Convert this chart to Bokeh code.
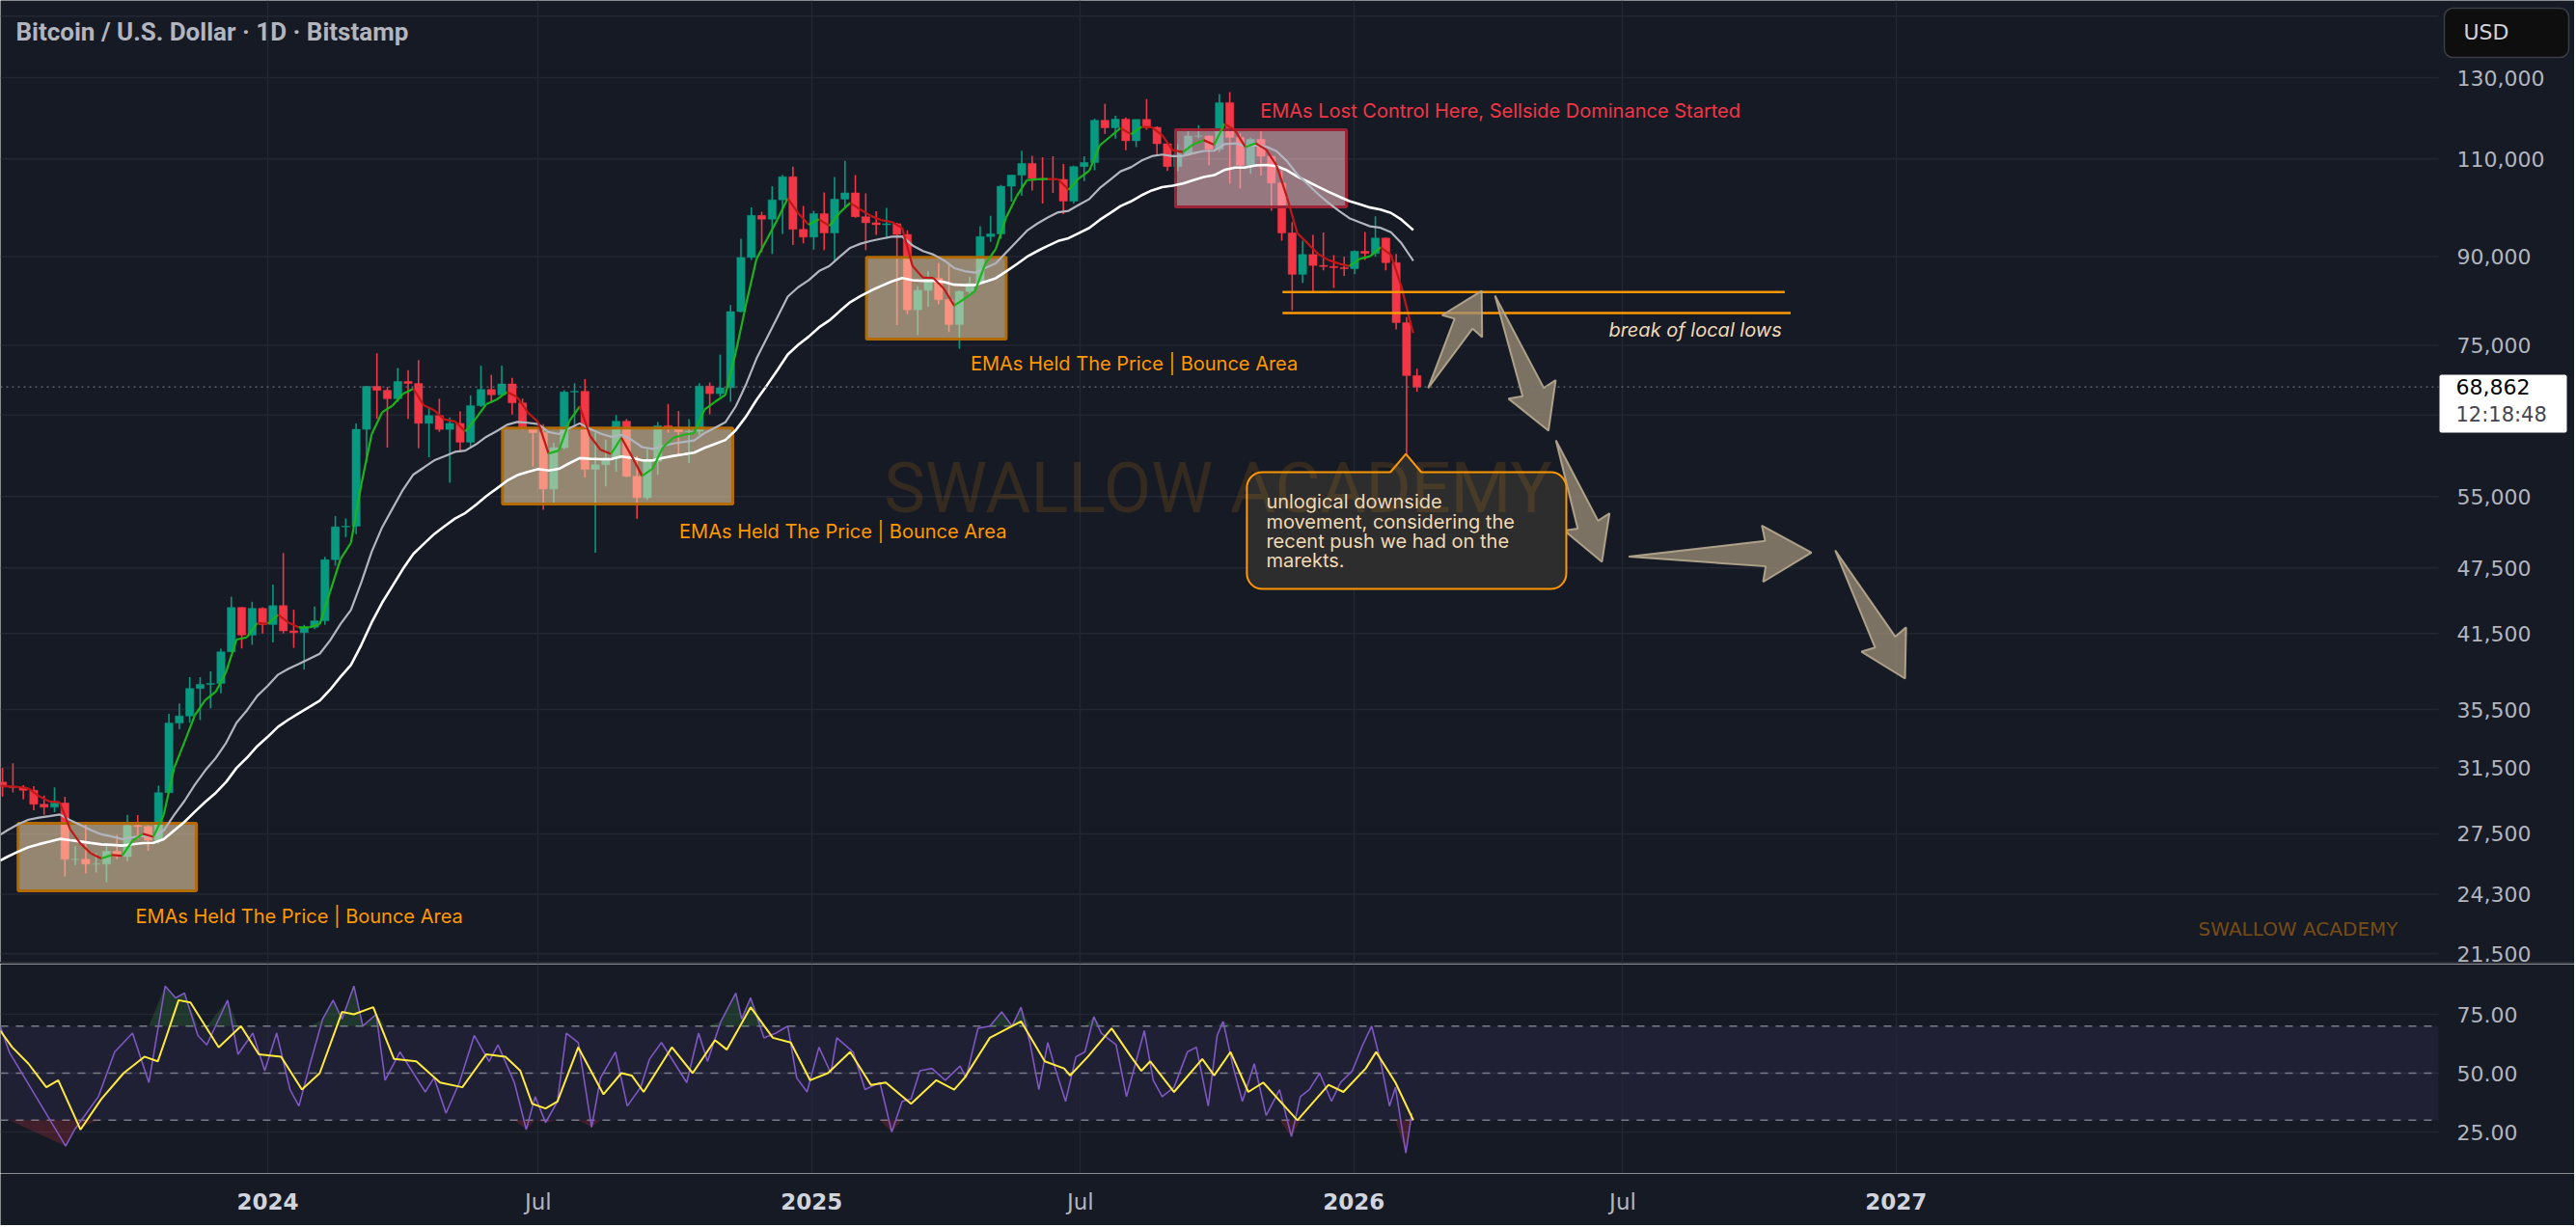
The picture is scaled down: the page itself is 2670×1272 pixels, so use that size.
import numpy as np
import pandas as pd
from bokeh.plotting import figure
from bokeh.models import Range1d, FixedTicker, LogScale, Div
from bokeh.layouts import column
from bokeh.core.properties import value
from bokeh.embed import file_html
from bokeh.resources import INLINE

# ---------------------------------------------------------------- data
# BTC/USD (Bitstamp), summarised as weekly candles
FIRST_WEEK = "2023-07-03"
OPEN = [30585, 30280, 30250, 30080, 29230, 29050, 29300, 26100, 26100, 25850,
        25850, 26530, 26250, 27980, 27920, 27150, 29930, 34530, 35040, 37070,
        37380, 37460, 39970, 43780, 41370, 43700,
        42280, 43950, 41730, 41580, 42040, 42600, 48300, 51670, 51730, 63130,
        68960, 68390, 67230, 69650, 69360, 63910, 64940, 63120, 63900, 61480,
        66270, 68510, 67770, 69300, 66650, 63200, 62700, 55850, 60800, 68160,
        68250, 58150, 58700, 59480, 64180, 57320, 54860, 59120, 63600, 63330,
        62820, 62870, 68990, 67930, 68750, 80400, 89850, 97950, 97200, 101150,
        106050, 95200, 93700,
        98300, 94500, 101300, 102600, 97700, 96500, 96100, 96300, 94200, 80700,
        84000, 86100, 82400, 78300, 83800, 85200, 93800, 94300, 104000, 106400,
        109000, 105700, 105600, 105500, 100900, 108300, 109200, 119100, 117300, 119400,
        114200, 119300, 117400, 113500, 108300, 111100, 115300, 115300, 112200, 123500,
        115000, 108600, 114500, 110600, 104700, 94500, 86800, 90400, 88400, 88200,
        88000, 87800, 91000, 90600, 93500, 88900, 78600, 70500]
HIGH = [31500, 31800, 30400, 30330, 29750, 30250, 29680, 26830, 28150, 26430,
        27000, 27450, 28600, 28580, 28000, 30360, 35200, 35950, 37950, 37950,
        38400, 40220, 44750, 43830, 44300, 43800,
        45900, 48970, 43580, 42250, 43870, 48580, 52820, 52570, 63900, 69000,
        73800, 68900, 71600, 71300, 72800, 66000, 67230, 64700, 65500, 67700,
        71950, 70600, 71950, 70150, 67250, 63300, 63800, 61400, 68400, 69400,
        70000, 62700, 61800, 65000, 64480, 59800, 60600, 64100, 66500, 65550,
        64480, 69400, 69500, 73600, 81500, 93400, 99600, 98700, 104000, 106500,
        108300, 99900, 98900,
        102700, 106000, 109600, 106400, 102500, 98800, 99500, 96500, 95000, 84700,
        87400, 88800, 88500, 84000, 86400, 95800, 97900, 104300, 106500, 111900,
        110700, 110400, 110600, 108900, 108500, 110600, 119500, 123200, 120200, 119800,
        119300, 124400, 117600, 113600, 113400, 116800, 117900, 115400, 125700, 126200,
        116000, 114900, 116400, 110800, 107500, 96600, 93000, 94100, 94600, 90300,
        90000, 91200, 94700, 97800, 93600, 90500, 79500, 71500]
LOW = [29700, 29950, 29520, 28870, 28600, 28750, 25200, 25800, 25350, 25400,
       24900, 26100, 26000, 27200, 26560, 26960, 29900, 34100, 34550, 34750,
       35600, 36700, 39970, 40250, 40550, 41500,
       40750, 41500, 40300, 38540, 41880, 42260, 47700, 50600, 50900, 59000,
       64500, 60800, 66800, 64500, 60700, 59600, 62800, 56550, 60200, 60750,
       66100, 66650, 67600, 65070, 63000, 58500, 53500, 54250, 60600, 63500,
       57200, 49000, 56150, 57850, 57200, 52550, 54600, 57500, 62700, 59830,
       58900, 62400, 65100, 67500, 66800, 80300, 89400, 90800, 90500, 94300,
       92200, 92500, 91300,
       91200, 89200, 99500, 97500, 91200, 94100, 93400, 78200, 80000, 76600,
       81200, 81600, 77100, 74500, 83100, 85100, 92800, 93400, 100800, 102000,
       103100, 100400, 102600, 98200, 100400, 105100, 107500, 115800, 114700, 112000,
       112700, 116800, 110600, 107300, 107300, 110700, 114800, 108600, 111600, 104600,
       103500, 106700, 106300, 98900, 93000, 80600, 85300, 83800, 87500, 84400,
       86500, 86800, 89400, 90000, 87500, 77500, 60000, 68200]
CLOSE = [30280, 30250, 30080, 29230, 29050, 29300, 26100, 26100, 25850, 25850,
         26530, 26250, 27980, 27920, 27150, 29930, 34530, 35040, 37070, 37380,
         37460, 39970, 43780, 41370, 43700, 42280,
         43950, 41730, 41580, 42040, 42600, 48300, 51670, 51730, 63130, 68960,
         68390, 67230, 69650, 69360, 63910, 64940, 63120, 63900, 61480, 66270,
         68510, 67770, 69300, 66650, 63200, 62700, 55850, 60800, 68160, 68250,
         58150, 58700, 59480, 64180, 57320, 54860, 59120, 63600, 63330, 62820,
         62870, 68990, 67930, 68750, 80400, 89850, 97950, 97200, 101150, 106050,
         95200, 93700, 98300,
         94500, 101300, 102600, 97700, 96500, 96100, 96300, 94200, 80700, 84000,
         86100, 82400, 78300, 83800, 85200, 93800, 94300, 104000, 106400, 109000,
         105700, 105600, 105500, 100900, 108300, 109200, 119100, 117300, 119400, 114200,
         119300, 117400, 113500, 108300, 111100, 115300, 115300, 112200, 123500, 115000,
         108600, 114500, 110600, 104700, 94500, 86800, 90400, 88400, 88200, 88000,
         87800, 91000, 90600, 93500, 88900, 78600, 70500, 68862]
LAST_BAR = "2026-02-10"
LAST_PRICE = 68862
COUNTDOWN = "12:18:48"

# EMA indicator settings and their values at the left edge of the chart
EMA_START = "2023-07-05"
EMA_FAST_LEN, EMA_MID_LEN, EMA_SLOW_LEN = 21, 100, 200
EMA_FAST_SEED, EMA_MID_SEED, EMA_SLOW_SEED = 30350, 27450, 26040

RSI_DAY = [-180, -174, -136, -130, -114, -103, -91, -80, -69, -62,
           -56, -47, -41, -27, -20, -10, -2, 6, 15, 21,
           29, 37, 44, 50, 58, 64, 73, 79, 89, 106,
           112, 120, 129, 139, 149, 155, 166, 174, 180, 187,
           195, 201, 209, 218, 224, 234, 242, 251, 257, 265,
           273, 282, 290, 296, 305, 315, 319, 325, 334, 342,
           350, 356, 363, 371, 379, 383, 394, 402, 412, 420,
           427, 433, 439, 447, 456, 466, 470, 478, 486, 494,
           501, 507, 513, 519, 525, 530, 537, 544, 550, 556,
           561, 571, 578, 590, 596, 602, 610, 619, 625, 633,
           639, 643, 650, 656, 664, 672, 681, 689, 695, 701,
           708, 716, 722, 730, 737, 743, 749, 755, 759, 766, 770]
RSI_VAL = [70, 59, 19, 26, 40, 59, 67, 46, 87, 82,
           84, 66, 62, 81, 58, 67, 51, 67, 43, 36,
           55, 73, 81, 73, 87, 70, 75, 47, 59, 42,
           48, 33, 46, 66, 55, 62, 46, 26, 40, 29,
           38, 67, 63, 27, 48, 59, 36, 44, 56, 63,
           55, 46, 67, 55, 72, 84, 73, 82, 65, 67,
           70, 48, 42, 61, 50, 65, 59, 43, 46, 25,
           38, 39, 51, 52, 47, 53, 48, 69, 70, 76,
           70, 78, 63, 43, 63, 52, 38, 57, 59, 74,
           67, 62, 40, 68, 47, 40, 44, 59, 61, 36,
           66, 72, 52, 38, 54, 32, 43, 23, 40, 43,
           50, 38, 46, 51, 62, 70, 55, 36, 44, 16, 33]
RSI_MA_DAY = [-180, -172, -161, -149, -141, -126, -112, -97, -83, -74,
              -68, -60, -52, -33, -18, -6, 9, 23, 35, 50,
              58, 71, 85, 100, 116, 131, 147, 160, 170, 178,
              187, 195, 209, 226, 238, 245, 253, 272, 286, 301,
              309, 325, 340, 352, 365, 377, 392, 406, 416, 433,
              450, 462, 469, 486, 507, 523, 536, 540, 552, 568,
              581, 588, 594, 610, 629, 637, 648, 660, 670, 693,
              714, 724, 739, 746, 759, 771]
RSI_MA_VAL = [68, 61, 54, 44, 47, 26, 39, 50, 57, 55,
              66, 81, 80, 61, 70, 58, 57, 43, 50, 76,
              75, 78, 56, 55, 46, 44, 58, 57, 51, 37,
              35, 38, 61, 41, 50, 49, 42, 61, 50, 64,
              60, 78, 65, 63, 47, 50, 59, 45, 46, 37,
              47, 43, 48, 65, 72, 55, 52, 49, 57, 69,
              57, 51, 55, 42, 56, 49, 59, 42, 46, 30,
              45, 42, 52, 59, 46, 30]
RSI_LEVELS = [70, 50, 30]

# axes
PRICE_TICKS = [130000, 110000, 90000, 75000, 55000, 47500, 41500,
               35500, 31500, 27500, 24300, 21500]
PRICE_GRID = [147500, 130000, 110000, 90000, 75000, 65000, 55000, 47500, 41500,
              35500, 31500, 27500, 24300, 21500]
RSI_TICKS = [25, 50, 75]
TIME_TICKS = ["2024-01-01", "2024-07-01", "2025-01-01", "2025-07-01",
              "2026-01-01", "2026-07-01", "2027-01-01"]
TIME_LABELS = ["2024", "Jul", "2025", "Jul", "2026", "Jul", "2027"]
CURRENCY = "USD"

# drawings on the chart
BOX_START = ["2023-07-17", "2024-06-07", "2025-02-07", "2025-09-03"]
BOX_END = ["2023-11-14", "2024-11-09", "2025-05-12", "2025-12-27"]
BOX_TOP = [28100, 63300, 89900, 116800]
BOX_BOTTOM = [24470, 54150, 75990, 99700]
BOX_HELD = [True, True, True, False]

NOTE_TEXT = ["EMAs Held The Price | Bounce Area", "EMAs Held The Price | Bounce Area",
             "EMAs Held The Price | Bounce Area",
             "EMAs Lost Control Here, Sellside Dominance Started"]
NOTE_DATE = ["2023-10-04", "2024-10-04", "2025-04-18", "2025-10-30"]
NOTE_PRICE = [23200, 51130, 72300, 121500]

LEVEL_PRICE = [83700, 80160]
LEVEL_START = ["2025-11-14", "2025-11-14"]
LEVEL_END = ["2026-10-18", "2026-10-22"]
LEVEL_NOTE = "break of local lows"
LEVEL_NOTE_DATE = "2026-10-16"
LEVEL_NOTE_PRICE = 77400

ARROW_FROM_DATE = ["2026-02-20", "2026-04-06", "2026-05-17", "2026-07-05", "2026-11-21"]
ARROW_FROM_PRICE = [68700, 83080, 61720, 48600, 49230]
ARROW_TO_DATE = ["2026-03-28", "2026-05-12", "2026-06-17", "2026-11-05", "2027-01-07"]
ARROW_TO_PRICE = [83900, 62950, 48090, 49000, 37830]

CALLOUT_LEFT, CALLOUT_RIGHT = "2025-10-21", "2026-05-24"
CALLOUT_TOP, CALLOUT_BOTTOM = 57810, 45480
CALLOUT_TIP_DATE, CALLOUT_TIP_PRICE = "2026-02-05", 60020
CALLOUT_TEXT_DATE = "2025-11-03"
CALLOUT_LINES = ["unlogical downside", "movement, considering the",
                 "recent push we had on the", "marekts."]
CALLOUT_LINE_PRICE = [54370, 52210, 50140, 48180]

TITLE = "Bitcoin / U.S. Dollar \u00b7 1D \u00b7 Bitstamp"
WATERMARK = "SWALLOW ACADEMY"

# ---------------------------------------------------------------- layout / scale calibration
W, H_MAIN, SEP, H_RSI, H_AXIS = 2668, 997, 2, 217, 54
SCALE_X = 2527          # page x where the price scale begins
BG = "#161a25"
GRID = "#232733"
TXT = "#b2b5be"
UP, DOWN = "#089981", "#f23645"
AX_FONT = "DejaVu Sans"

REF_EPOCH = pd.Timestamp("2024-01-01")
EPOCH_PX = 277.0
PX_PER_DAY = 1.54
REF_PRICE, REF_PRICE_PX, PX_PER_LN = 130000.0, 80.0, 504.7
RSI_REF_PX, RSI_PX_PER_UNIT = 1112.0, 2.44  # RSI 50 line


def to_ms(t):
    return pd.Timestamp(t).value / 1e6


def day_of(t):
    return (pd.Timestamp(t) - REF_EPOCH) / pd.Timedelta(days=1)


def x_px(t):
    return EPOCH_PX + day_of(t) * PX_PER_DAY


def px_to_ms(px):
    return to_ms(REF_EPOCH + pd.Timedelta(days=(px - EPOCH_PX) / PX_PER_DAY))


def price_to_py(p):
    return REF_PRICE_PX + PX_PER_LN * np.log(REF_PRICE / p)


def py_to_price(py):
    return REF_PRICE * np.exp(-(py - REF_PRICE_PX) / PX_PER_LN)


def py_to_rsi(py):
    return 50 + (RSI_REF_PX - py) / RSI_PX_PER_UNIT


def days_ms(days):
    return [to_ms(REF_EPOCH + pd.Timedelta(days=d)) for d in days]


xr = Range1d(px_to_ms(0), px_to_ms(W))
X_LEFT, X_SCALE = px_to_ms(0), px_to_ms(SCALE_X)
tick_ms = [to_ms(t) for t in TIME_TICKS]


def base_fig(height, y_range, y_type="linear"):
    f = figure(width=W, height=height, x_range=xr, y_range=y_range,
               y_axis_type=y_type,
               x_axis_location=None, y_axis_location=None,
               toolbar_location=None, output_backend="svg",
               background_fill_color=BG, border_fill_color=BG, outline_line_color=None,
               min_border_left=0, min_border_right=0, min_border_top=0, min_border_bottom=0)
    if y_type == "log":
        f.y_scale = LogScale()
    return f


# ---------------------------------------------------------------- main price pane
p = base_fig(H_MAIN, Range1d(py_to_price(H_MAIN), py_to_price(0)), "log")
p.xgrid.ticker = FixedTicker(ticks=tick_ms)
p.xgrid.grid_line_color = GRID
p.xgrid.grid_line_width = 1.5
p.ygrid.visible = False
p.segment(x0=X_LEFT, y0=PRICE_GRID, x1=X_SCALE, y1=PRICE_GRID,
          line_color=GRID, line_width=1.5, level="underlay")

# price scale labels
p.text(x=px_to_ms(2546), y=PRICE_TICKS, text=[f"{v:,}" for v in PRICE_TICKS],
       text_font=value(AX_FONT), text_font_size="22px", text_color=TXT,
       text_align="left", text_baseline="middle")

# candles
weeks = pd.date_range(FIRST_WEEK, periods=len(CLOSE), freq="7D")
o, h, l, c = map(np.array, (OPEN, HIGH, LOW, CLOSE))
col = [UP if u else DOWN for u in (c >= o)]
left = [to_ms(w + pd.Timedelta(days=0.8)) for w in weeks]
right = [to_ms(w + pd.Timedelta(days=6.2)) for w in weeks]
mid = [to_ms(w + pd.Timedelta(days=3.5)) for w in weeks]
p.segment(x0=mid, y0=l, x1=mid, y1=h, line_color=col, line_width=1.6)
p.quad(left=left, right=right, top=np.maximum(o, c), bottom=np.minimum(o, c),
       fill_color=col, line_color=col, line_width=0.5)

# drawing boxes (above candles)
for s, e, t, b, held in zip(BOX_START, BOX_END, BOX_TOP, BOX_BOTTOM, BOX_HELD):
    p.quad(left=[to_ms(s)], right=[to_ms(e)], top=[t], bottom=[b],
           fill_color="#ffe0b3" if held else "#ffc5ca", fill_alpha=0.55,
           line_color="#b36b00" if held else "#9b2335", line_width=3)

# EMAs computed from the closes (daily smoothing factor applied per elapsed day)
last_ts = pd.Timestamp(LAST_BAR)
close_ts = [min(w + pd.Timedelta(days=7), last_ts) for w in weeks]


def ema(seed, length):
    a_d = 2.0 / (length + 1)
    xs, vs = [pd.Timestamp(EMA_START)], [seed]
    v = seed
    for t, cl in zip(close_ts, CLOSE):
        dd = (t - xs[-1]) / pd.Timedelta(days=1)
        a = 1 - (1 - a_d) ** dd
        v = v + a * (cl - v)
        xs.append(t)
        vs.append(v)
    return [to_ms(x) for x in xs], np.array(vs)


sx, sv = ema(EMA_SLOW_SEED, EMA_SLOW_LEN)
mx, mv = ema(EMA_MID_SEED, EMA_MID_LEN)
fx, fv = ema(EMA_FAST_SEED, EMA_FAST_LEN)
p.line(sx, sv, line_color="#ffffff", line_width=2.6)
p.line(mx, mv, line_color="#b2b5be", line_width=2.2)
fcol = ["#1db31d" if b >= a else "#c01818" for a, b in zip(fv[:-1], fv[1:])]
p.segment(x0=fx[:-1], y0=fv[:-1], x1=fx[1:], y1=fv[1:], line_color=fcol, line_width=2.2)

# notes
for txt, d, pr in zip(NOTE_TEXT, NOTE_DATE, NOTE_PRICE):
    p.text(x=[to_ms(d)], y=[pr], text=[txt], text_font=value("Inter"),
           text_font_size="20px", text_align="left", text_baseline="middle",
           text_color="#ff9800" if "Held" in txt else "#f23645")

# local-low levels
for lv, s, e in zip(LEVEL_PRICE, LEVEL_START, LEVEL_END):
    p.segment(x0=[to_ms(s)], y0=[lv], x1=[to_ms(e)], y1=[lv], line_color="#ff9800", line_width=2.5)
p.text(x=[to_ms(LEVEL_NOTE_DATE)], y=[LEVEL_NOTE_PRICE], text=[LEVEL_NOTE],
       text_font=value("Inter"), text_font_size="20px", text_font_style="italic",
       text_color="#f0d9b5", text_align="right", text_baseline="middle")


# projection arrows
def arrow_polygon(d0, p0, d1, p1):
    x0, y0 = x_px(d0), price_to_py(p0)
    x1, y1 = x_px(d1), price_to_py(p1)
    dx, dy = x1 - x0, y1 - y0
    L = float(np.hypot(dx, dy))
    ux, uy = dx / L, dy / L
    nx, ny = -uy, ux
    wing = 30 + 0.15 * L
    head = 25 + 0.12 * L
    shaft = 0.45 * wing
    bx, by = x1 - ux * head, y1 - uy * head
    pts = [(x0, y0),
           (bx + nx * shaft / 2, by + ny * shaft / 2),
           (bx - ux * 3 + nx * wing / 2, by - uy * 3 + ny * wing / 2),
           (x1, y1),
           (bx - ux * 3 - nx * wing / 2, by - uy * 3 - ny * wing / 2),
           (bx - nx * shaft / 2, by - ny * shaft / 2)]
    return [px_to_ms(x) for x, _ in pts], [py_to_price(y) for _, y in pts]


axs, ays = [], []
for d0, p0, d1, p1 in zip(ARROW_FROM_DATE, ARROW_FROM_PRICE, ARROW_TO_DATE, ARROW_TO_PRICE):
    a, b = arrow_polygon(d0, p0, d1, p1)
    axs.append(a)
    ays.append(b)
p.patches(axs, ays, fill_color="#9f9079", fill_alpha=0.75, line_color="#b8aa90",
          line_width=2, line_alpha=0.9)

# callout bubble
p.quad(left=[to_ms(CALLOUT_LEFT)], right=[to_ms(CALLOUT_RIGHT)], top=[CALLOUT_TOP],
       bottom=[CALLOUT_BOTTOM], fill_color="#2d2d2d", line_color="#ff9800",
       line_width=2, border_radius=16)
tx, ty = x_px(CALLOUT_TIP_DATE), price_to_py(CALLOUT_TIP_PRICE)
by = price_to_py(CALLOUT_TOP)
p.patch([px_to_ms(tx - 16), px_to_ms(tx), px_to_ms(tx + 16)],
        [py_to_price(by + 1.5), py_to_price(ty), py_to_price(by + 1.5)],
        fill_color="#2d2d2d", line_color=None)
p.line([px_to_ms(tx - 16), px_to_ms(tx), px_to_ms(tx + 16)],
       [py_to_price(by), py_to_price(ty), py_to_price(by)], line_color="#ff9800", line_width=2)

# watermark (faint, drawn over the bubble as in the reference)
p.text(x=[px_to_ms(1262)], y=[py_to_price(506)], text=[WATERMARK],
       text_font=value("Roboto"), text_font_size="72px", text_color="#ff9800",
       text_alpha=0.13, text_align="center", text_baseline="middle")

for txt, pr in zip(CALLOUT_LINES, CALLOUT_LINE_PRICE):
    p.text(x=[to_ms(CALLOUT_TEXT_DATE)], y=[pr], text=[txt],
           text_font=value("Inter"), text_font_size="20px", text_color="#f0d9b5",
           text_align="left", text_baseline="middle")

# current price line and tag on the price scale
p.segment(x0=[X_LEFT], y0=[LAST_PRICE], x1=[X_SCALE], y1=[LAST_PRICE],
          line_color="#6a6d78", line_dash="2 4", line_width=1.2)
p.quad(left=[px_to_ms(2528)], right=[px_to_ms(2660)], top=[py_to_price(388)],
       bottom=[py_to_price(448)], fill_color="#ffffff", line_color=None, border_radius=2)
p.text(x=[px_to_ms(2545)], y=[LAST_PRICE], text=[f"{LAST_PRICE:,}"],
       text_font=value(AX_FONT), text_font_size="22px", text_color="#000000",
       text_align="left", text_baseline="middle")
p.text(x=[px_to_ms(2545)], y=[py_to_price(429)], text=[COUNTDOWN],
       text_font=value(AX_FONT), text_font_size="21px", text_color="#434651",
       text_align="left", text_baseline="middle")

# currency button
p.quad(left=[px_to_ms(2533)], right=[px_to_ms(2662)], top=[py_to_price(8)],
       bottom=[py_to_price(59)], fill_color="#0e0e0e", line_color="#3a3d45",
       line_width=1.5, border_radius=9)
p.text(x=[px_to_ms(2553)], y=[py_to_price(33)], text=[CURRENCY],
       text_font=value(AX_FONT), text_font_size="22px", text_color="#d1d4dc",
       text_align="left", text_baseline="middle")

# title and small watermark
p.text(x=[px_to_ms(16)], y=[py_to_price(32)], text=[TITLE],
       text_font=value("Roboto"), text_font_size="26px", text_font_style="bold",
       text_color=TXT, text_align="left", text_baseline="middle")
p.text(x=[px_to_ms(2278)], y=[py_to_price(962)], text=[WATERMARK],
       text_font=value(AX_FONT), text_font_size="20px", text_color="#ff9800",
       text_alpha=0.42, text_align="left", text_baseline="middle")

# ---------------------------------------------------------------- RSI pane
rtop = H_MAIN + SEP
rsi = base_fig(H_RSI, Range1d(py_to_rsi(rtop + H_RSI), py_to_rsi(rtop)))
rsi.xgrid.ticker = FixedTicker(ticks=tick_ms)
rsi.xgrid.grid_line_color = GRID
rsi.xgrid.grid_line_width = 1.5
rsi.ygrid.visible = False
rsi.segment(x0=X_LEFT, y0=RSI_TICKS, x1=X_SCALE, y1=RSI_TICKS,
            line_color=GRID, line_width=1.5, level="underlay")
rsi.quad(left=[X_LEFT], right=[X_SCALE], bottom=[min(RSI_LEVELS)], top=[max(RSI_LEVELS)],
         fill_color="#7e57c2", fill_alpha=0.1, line_color=None, level="underlay")
rsi.segment(x0=X_LEFT, y0=RSI_LEVELS, x1=X_SCALE, y1=RSI_LEVELS,
            line_color="#787b86", line_dash="8 8", line_width=1.5)
rx = days_ms(RSI_DAY)
rv = np.array(RSI_VAL, dtype=float)
rsi.varea(x=rx, y1=max(RSI_LEVELS), y2=np.maximum(rv, max(RSI_LEVELS)),
          fill_color="#4caf50", fill_alpha=0.2)
rsi.varea(x=rx, y1=min(RSI_LEVELS), y2=np.minimum(rv, min(RSI_LEVELS)),
          fill_color="#f23645", fill_alpha=0.2)
rsi.line(rx, rv, line_color="#7e57c2", line_width=1.6)
rsi.line(days_ms(RSI_MA_DAY), RSI_MA_VAL, line_color="#ffeb3b", line_width=2)
rsi.text(x=px_to_ms(2546), y=RSI_TICKS, text=[f"{v:.2f}" for v in RSI_TICKS],
         text_font=value(AX_FONT), text_font_size="22px", text_color=TXT,
         text_align="left", text_baseline="middle")

# ---------------------------------------------------------------- time scale strip
strip = base_fig(H_AXIS, Range1d(0, H_AXIS))
strip.grid.visible = False
is_year = [lab != "Jul" for lab in TIME_LABELS]
ly = H_MAIN + SEP + H_RSI + H_AXIS - 1245
strip.text(x=[m for m, y in zip(tick_ms, is_year) if y], y=ly,
           text=[t for t, y in zip(TIME_LABELS, is_year) if y],
           text_font=value(AX_FONT), text_font_size="23px", text_font_style="bold",
           text_color="#d1d4dc", text_align="center", text_baseline="middle")
strip.text(x=[m for m, y in zip(tick_ms, is_year) if not y], y=ly,
           text=[t for t, y in zip(TIME_LABELS, is_year) if not y],
           text_font=value(AX_FONT), text_font_size="23px",
           text_color=TXT, text_align="center", text_baseline="middle")

sep = Div(text="", width=W, height=SEP, margin=(0, 0, 0, 0),
          styles={"background-color": "#2a2e39"})

layout = column(p, sep, rsi, strip, spacing=0)
open("out.html", "w").write(file_html(layout, INLINE))
